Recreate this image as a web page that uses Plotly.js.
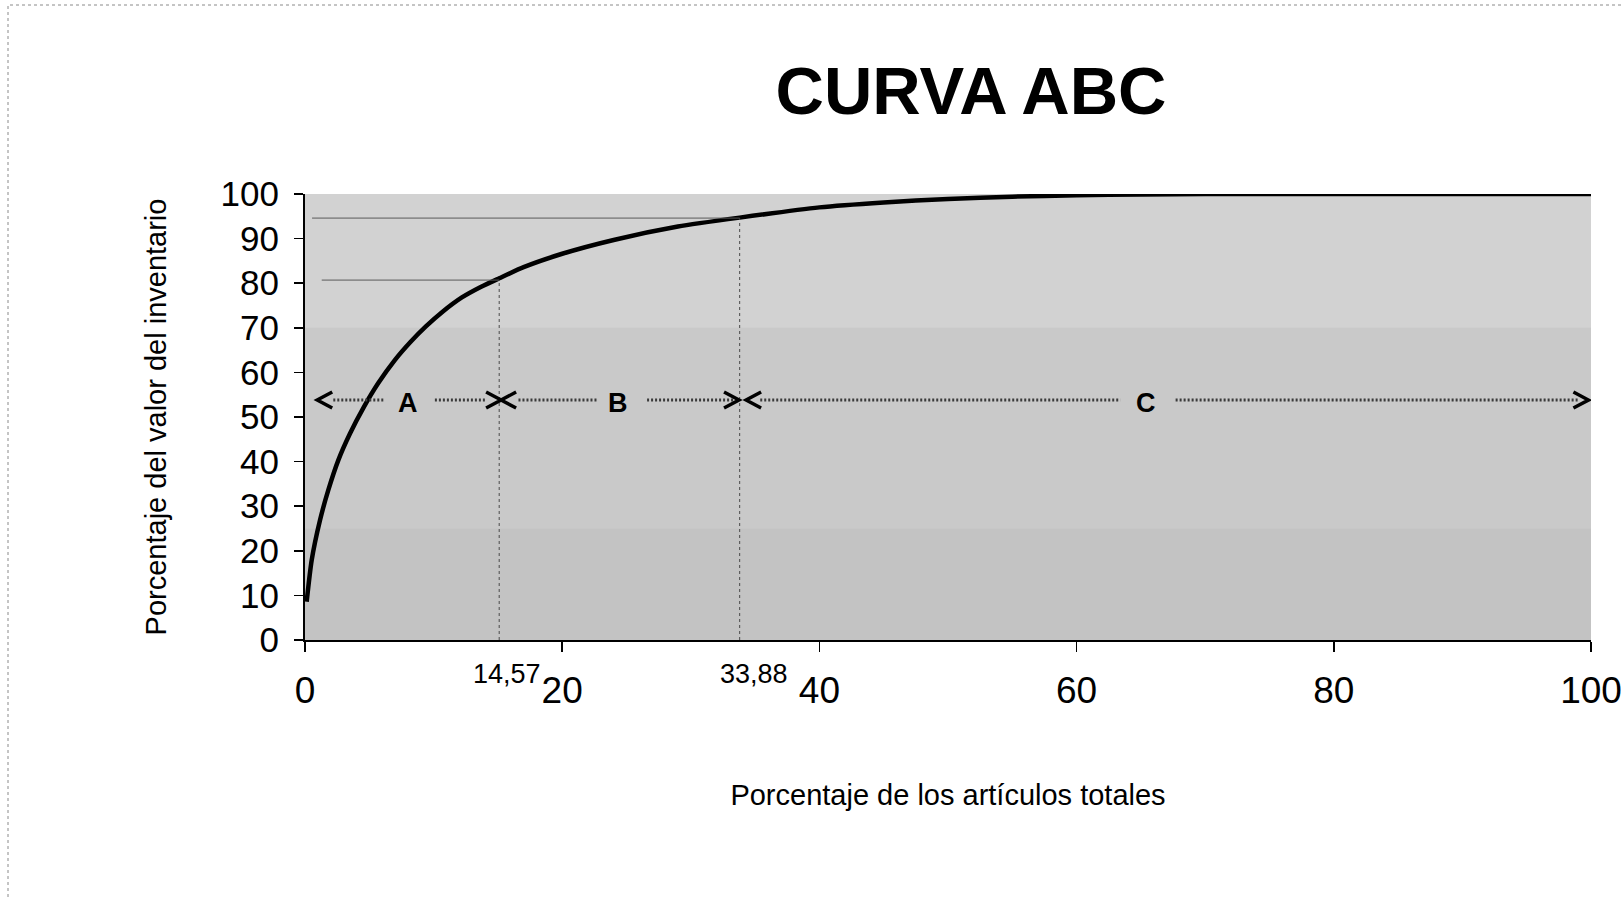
<!DOCTYPE html>
<html>
<head>
<meta charset="utf-8">
<script src="https://cdn.plot.ly/plotly-3.0.1.min.js"></script>
<style>html,body{margin:0;padding:0;background:#fff;}#chart{width:1624px;height:897px;}</style>
</head>
<body>
<div id="chart"></div>
<script>
// ---- data ----
const pctItems = [0.13, 0.52, 1.17, 1.81, 2.6, 3.5, 4.53, 5.7, 7.0, 8.2, 9.4, 10.7, 12.2, 13.7, 15.1, 17.0, 20.0, 24.0, 29.0, 33.8, 40, 45, 50, 55, 60, 65, 70, 80, 90, 100];
const pctValue = [8.6, 17.9, 26.9, 33.6, 40.4, 46.3, 52.0, 57.6, 62.8, 66.8, 70.3, 73.6, 76.8, 79.2, 81.1, 83.6, 86.6, 89.7, 92.7, 94.7, 97.0, 98.1, 98.9, 99.4, 99.7, 99.9, 100, 100, 100, 100];
const cutX = [15.1, 33.8];          // where the A/B and B/C boundary lines are drawn
const cutY = [80.7, 94.6];          // cumulative value at each boundary
const cutLabels = ['14,57', '33,88'];
const zoneNames = ['A', 'B', 'C'];
const xTicks = [0, 20, 40, 60, 80, 100];
const yTicks = [0, 10, 20, 30, 40, 50, 60, 70, 80, 90, 100];

// ---- layout helpers (styling / placement only) ----
const FONT = 'Liberation Sans, Arial, sans-serif';
const M = {l: 305, r: 33, t: 194, b: 257};
const W = 1624, H = 897;
const PW = W - M.l - M.r, PH = H - M.t - M.b;
const px2pX = px => (px - M.l) / PW;
const px2pY = py => (H - M.b - py) / PH;

const arrowY = 53.8;
const zoneLabelX = [8.0, 24.3, 65.4];
const dotSegs = [[2.2, 6.1], [10.1, 14.0], [16.6, 22.7], [26.6, 33.5], [35.4, 63.4], [67.7, 99.0]];
const chevrons = [
  {x: 0.95, dir: 'left'},
  {x: 15.25, dir: 'right'},
  {x: 15.25, dir: 'left'},
  {x: 33.75, dir: 'right'},
  {x: 34.3, dir: 'left'},
  {x: 99.8, dir: 'right'}
];

const shapes = [];
// background tone bands
shapes.push({type: 'rect', xref: 'x', yref: 'y', x0: 0, x1: 100, y0: 70, y1: 100, fillcolor: '#d2d2d2', line: {width: 0}, layer: 'below'});
shapes.push({type: 'rect', xref: 'x', yref: 'y', x0: 0, x1: 100, y0: 25, y1: 70, fillcolor: '#c9c9c9', line: {width: 0}, layer: 'below'});
shapes.push({type: 'rect', xref: 'x', yref: 'y', x0: 0, x1: 100, y0: 0, y1: 25, fillcolor: '#c3c3c3', line: {width: 0}, layer: 'below'});

// boundary guide lines
const hStart = [1.3, 0.55];
cutX.forEach((cx, i) => {
  shapes.push({type: 'line', xref: 'x', yref: 'y', x0: hStart[i], x1: cx, y0: cutY[i], y1: cutY[i], line: {color: '#5a5a5a', width: 1}});
  shapes.push({type: 'line', xref: 'x', yref: 'y', x0: cx, x1: cx, y0: 0, y1: cutY[i], line: {color: '#4a4a4a', width: 1, dash: 'dot'}});
  shapes.push({type: 'line', xref: 'x', yref: 'y', ysizemode: 'pixel', yanchor: 0, x0: cx, x1: cx, y0: -17, y1: 0, line: {color: '#4a4a4a', width: 1, dash: 'dot'}});
});

// dotted zone arrows
dotSegs.forEach(s => {
  shapes.push({type: 'line', xref: 'x', yref: 'y', x0: s[0], x1: s[1], y0: arrowY, y1: arrowY, line: {color: '#3a3a3a', width: 3, dash: '2px,2px'}});
});
chevrons.forEach(c => {
  const d = c.dir === 'left' ? 'M 15 8 L 0 0 L 15 -8' : 'M -15 8 L 0 0 L -15 -8';
  shapes.push({type: 'path', xref: 'x', yref: 'y', xsizemode: 'pixel', ysizemode: 'pixel', xanchor: c.x, yanchor: arrowY, path: d, line: {color: '#000', width: 3.5}});
});

// dotted page border
shapes.push({type: 'rect', xref: 'paper', yref: 'paper', x0: px2pX(8), x1: px2pX(1660), y0: px2pY(930), y1: px2pY(5), line: {color: '#8a8a8a', width: 1, dash: 'dot'}, fillcolor: 'rgba(0,0,0,0)'});

const annotations = [];
zoneNames.forEach((n, i) => {
  annotations.push({x: zoneLabelX[i], y: arrowY, xref: 'x', yref: 'y', text: '<b>' + n + '</b>', showarrow: false, yshift: -3, font: {family: FONT, size: 27, color: '#000'}});
});
const cutLabelX = [15.7, 34.9];
cutLabels.forEach((t, i) => {
  annotations.push({x: cutLabelX[i], y: 0, xref: 'x', yref: 'paper', yanchor: 'top', yshift: -17, text: t, showarrow: false, font: {family: FONT, size: 27, color: '#000'}});
});

const trace = {
  x: pctItems, y: pctValue, type: 'scatter', mode: 'lines',
  line: {color: '#000', width: 4.5, shape: 'spline', smoothing: 0.6},
  hoverinfo: 'x+y', showlegend: false
};

const layout = {
  width: W, height: H,
  margin: M,
  paper_bgcolor: '#ffffff',
  plot_bgcolor: '#cacaca',
  title: {text: '<b>CURVA ABC</b>', x: px2pX(971), xanchor: 'center', xref: 'paper', y: 1 - 91 / H, yanchor: 'middle', font: {family: FONT, size: 67, color: '#000'}},
  xaxis: {
    range: [0, 100], tickvals: xTicks, ticktext: xTicks.map(String),
    showgrid: false, zeroline: false, showline: true, linecolor: '#000', linewidth: 2,
    ticks: 'outside', ticklen: 10, tickwidth: 1.5, tickcolor: '#000',
    tickfont: {family: FONT, size: 37, color: '#000'}, ticklabelstandoff: 7,
    title: {text: 'Porcentaje de los artículos totales', font: {family: FONT, size: 29, color: '#000'}, standoff: 74},
    fixedrange: true
  },
  yaxis: {
    range: [0, 100], tickvals: yTicks, ticktext: yTicks.map(String),
    showgrid: false, zeroline: false, showline: true, linecolor: '#000', linewidth: 2,
    ticks: 'outside', ticklen: 9, tickwidth: 1.5, tickcolor: '#000',
    tickfont: {family: FONT, size: 35, color: '#000'}, ticklabelstandoff: 8,
    title: {text: 'Porcentaje del valor del inventario', font: {family: FONT, size: 29, color: '#000'}, standoff: 45},
    fixedrange: true
  },
  shapes: shapes,
  annotations: annotations
};

Plotly.newPlot('chart', [trace], layout, {displayModeBar: false, staticPlot: true});
</script>
</body>
</html>
